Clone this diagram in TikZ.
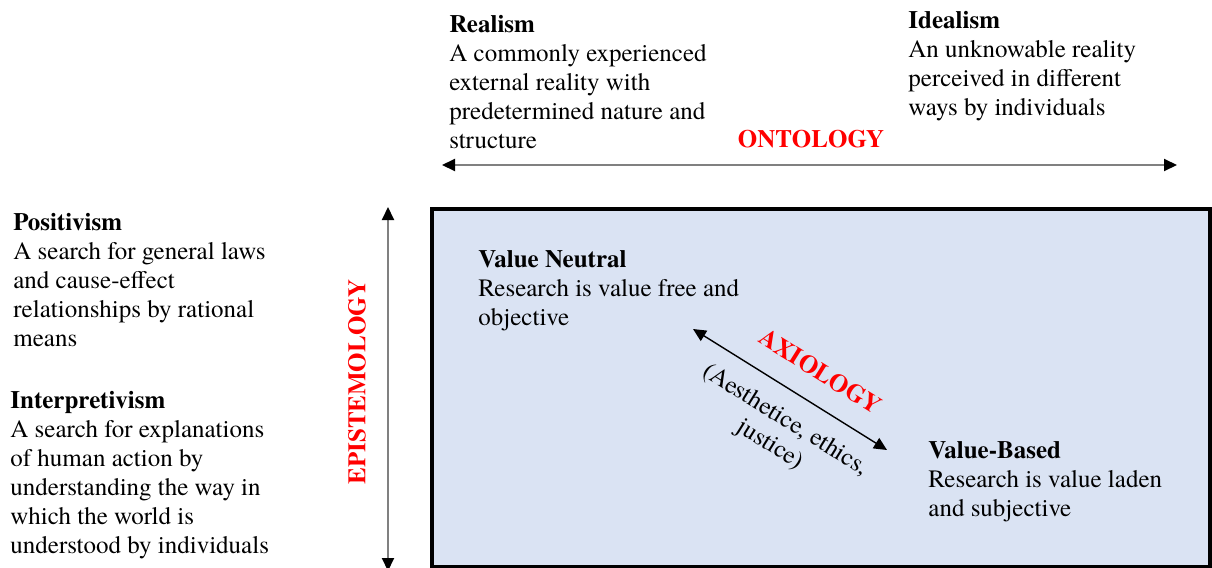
\documentclass[tikz,border=0pt]{standalone}
\usepackage{fontspec}
\setmainfont{texgyretermes}[Extension=.otf,UprightFont=*-regular,BoldFont=*-bold,ItalicFont=*-italic,BoldItalicFont=*-bolditalic]
\usetikzlibrary{arrows.meta,positioning}
\definecolor{boxblue}{RGB}{218,227,243}
\tikzset{
parabox/.style={anchor=north west,inner sep=0pt,align=left,font=\fontsize{12.5}{14.5}\selectfont},
axislabel/.style={text=red,inner sep=0pt,font=\fontsize{12.5}{14.5}\selectfont\bfseries},
axisarr/.style={draw=black!50,line width=1pt,
  {Triangle[length=6.5pt,width=6pt,color=black]}-{Triangle[length=6.5pt,width=6pt,color=black]}},
valuebox/.style={draw=black,line width=2pt,fill=boxblue}
}

\begin{document}
\begin{tikzpicture}[x=0.5pt,y=-0.5pt]
\useasboundingbox (0,0) rectangle (1212,568);
% value frame
\draw[valuebox] (432,209) rectangle (1210,567);

% ontology
\node[parabox] (real) at (449,15) {\textbf{Realism}\\A commonly experienced\\external reality with\\predetermined nature and\\structure};
\node[parabox] (ideal) at (908,11) {\textbf{Idealism}\\An unknowable reality\\perceived in different\\ways by individuals};
\node[axislabel] (onto) at (811,139) {ONTOLOGY};
\coordinate (ontL) at (442,165);
\coordinate (ontR) at (1177,165);
\draw[axisarr] (ontL) -- (ontR);

% epistemology
\node[parabox] (posit) at (13,213) {\textbf{Positivism}\\A search for general laws\\and cause-effect\\relationships by rational\\means};
\node[parabox] (interp) at (10,391) {\textbf{Interpretivism}\\A search for explanations\\of human action by\\understanding the way in\\which the world is\\understood by individuals};
\node[axislabel,rotate=90] (epist) at (357,382) {EPISTEMOLOGY};
\coordinate (epiT) at (388,207);
\coordinate (epiB) at (388,571);
\draw[axisarr] (epiT) -- (epiB);

% axiology
\node[parabox] (vneut) at (478,250) {\textbf{Value Neutral}\\Research is value free and\\objective};
\node[parabox] (vbased) at (928,441) {\textbf{Value-Based}\\Research is value laden\\and subjective};
\coordinate (axA) at (693,329);
\coordinate (axB) at (887,450);
\draw[axisarr,draw=black,line width=0.7pt] (axA) -- (axB)
  node[axislabel,pos=0.57,sloped,above=11pt] (axio) {AXIOLOGY}
  node[pos=0.555,sloped,below=8.5pt,inner sep=0pt,align=center,font=\fontsize{12.5}{14.5}\selectfont] (axnote) {(Aesthetice, ethics,\\justice)};
\end{tikzpicture}
\end{document}
